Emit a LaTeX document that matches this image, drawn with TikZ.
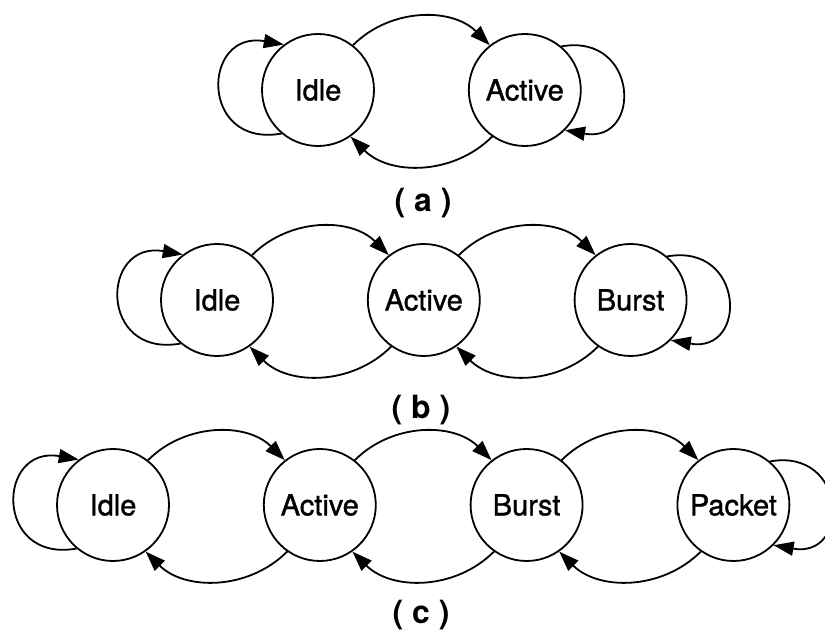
\documentclass[tikz,border=0pt]{standalone}
\usepackage{fontspec}
\setmainfont{TeX Gyre Heros}
\newfontfamily\scanfont{TeX Gyre Heros}[FakeBold=1.2]
\usetikzlibrary{arrows.meta,positioning}

\begin{document}
\begin{tikzpicture}[x=0.5pt, y=0.5pt,
    stnode/.style={circle, draw, line width=0.9pt, minimum size=56pt,
        inner sep=0pt, font=\scanfont\fontsize{14.5}{16}\selectfont},
    arr/.style={-{Triangle[length=10pt, width=7pt]}, line width=0.9pt},
    tr/.style={arr, bend left=45},
    lloop/.style={arr, out=190, in=170, looseness=2.4},
    rloop/.style={arr, out=10, in=-10, looseness=2.4},
    sublabel/.style={font=\bfseries\fontsize{16}{18}\selectfont},
    node distance=46.5pt
]
    \useasboundingbox (0,0) rectangle (825,631);

    % (a) two states
    \node[stnode] (idleA) at (318,541) {Idle};
    \node[stnode, right=of idleA] (activeA) {Active};

    \draw[tr] (idleA.52) to (activeA.128);
    \draw[tr] (activeA.235) to (idleA.305);
    \draw[lloop] (idleA.230) to (idleA.127);
    \draw[rloop] (activeA.50) to (activeA.-45);
    \node[sublabel] (labA) at (423,428) {( a )};

    % (b) three states
    \node[stnode] (idleB) at (217,331) {Idle};
    \node[stnode, right=of idleB] (activeB) {Active};
    \node[stnode, right=of activeB] (burstB) {Burst};

    \draw[tr] (idleB.52) to (activeB.128);
    \draw[tr] (activeB.235) to (idleB.305);
    \draw[tr] (activeB.52) to (burstB.128);
    \draw[tr] (burstB.235) to (activeB.305);
    \draw[lloop] (idleB.230) to (idleB.127);
    \draw[rloop] (burstB.50) to (burstB.-45);
    \node[sublabel] (labB) at (421,221) {( b )};

    % (c) four states
    \node[stnode] (idleC) at (113,126) {Idle};
    \node[stnode, right=of idleC] (activeC) {Active};
    \node[stnode, right=of activeC] (burstC) {Burst};
    \node[stnode, right=of burstC] (packetC) {Packet};

    \draw[tr] (idleC.52) to (activeC.128);
    \draw[tr] (activeC.235) to (idleC.305);
    \draw[tr] (activeC.52) to (burstC.128);
    \draw[tr] (burstC.235) to (activeC.305);
    \draw[tr] (burstC.52) to (packetC.128);
    \draw[tr] (packetC.235) to (burstC.305);
    \draw[lloop] (idleC.230) to (idleC.127);
    \draw[rloop] (packetC.50) to (packetC.-45);
    \node[sublabel] (labC) at (421,16) {( c )};
\end{tikzpicture}
\end{document}
